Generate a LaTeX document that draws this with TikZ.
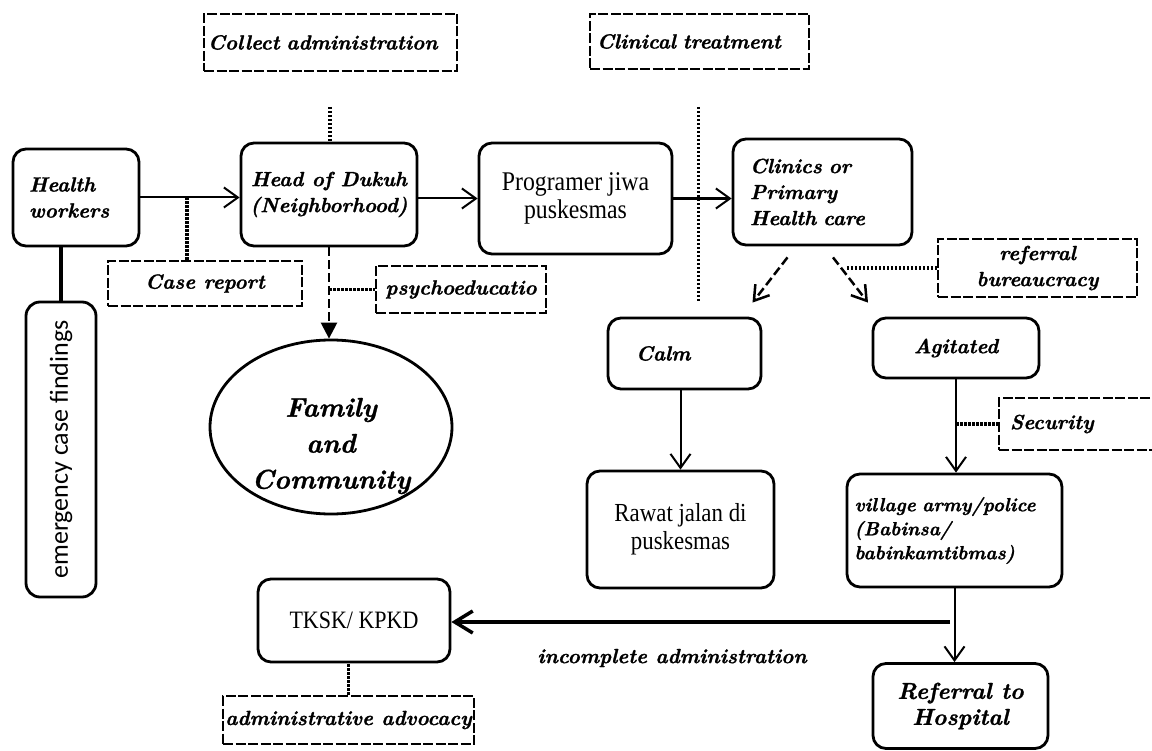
\documentclass[tikz,border=0pt]{standalone}
\usepackage{fontspec}
\newfontfamily\tnr{Liberation Serif}[FakeStretch=0.88]
\newfontfamily\carl{Carlito}
\newfontfamily\bkb{lmroman10-bolditalic.otf}[FakeBold=1.2]
\usetikzlibrary{arrows.meta,calc,shapes.geometric}
\begin{document}
\begin{tikzpicture}[x=1pt,y=-1pt,
 box/.style={draw, line width=2.8pt, rounded corners=13pt, inner sep=0pt},
 dbox/.style={draw, line width=2.4pt, dash pattern=on 10pt off 2.5pt, inner sep=0pt},
 bi/.style={font=\bkb\fontsize{20.5}{26}\selectfont},
 rmf/.style={font=\tnr\fontsize{27}{28}\selectfont},
 conn/.style={line width=2pt},
 dotl/.style={line width=3.8pt, dash pattern=on 2.5pt off 1.5pt},
 barb/.style={-{Straight Barb[length=14pt,width=20pt,line width=2pt]}},
 dbarb/.style={line width=2.5pt, dash pattern=on 9pt off 4pt, -{Straight Barb[length=14pt,width=18pt,line width=2.5pt,sep=0pt]}},
]
\useasboundingbox (0,0) rectangle (1152,751);
\fill[white] (0,0) rectangle (1152,751);
\clip (0,0) rectangle (1152,751);

% main boxes
\node[box, bi, minimum width=126, minimum height=97, text width=94, align=left] (hw) at (76,197.5) {Health\\workers};
\node[box, bi, minimum width=176, minimum height=103, align=center] (hd) at (329,194.5) {Head of Dukuh\\(Neighborhood)};
\node[box, rmf, minimum width=193, minimum height=111, align=center] (pj) at (575.5,198.5) {Programer jiwa\\puskesmas};
\node[box, bi, minimum width=179, minimum height=106, text width=145, align=left] (cl) at (822.5,192) {Clinics or\\Primary\\Health care};
\node[box, bi, minimum width=153, minimum height=71, text width=97, align=left] (ca) at (684.5,353.5) {Calm};
\node[box, bi, minimum width=166, minimum height=60, align=center] (ag) at (956,348) {Agitated};
\node[box, font=\tnr\fontsize{26}{28}\selectfont, minimum width=187, minimum height=117, align=center] (rw) at (680.5,529.5) {Rawat jalan di\\puskesmas};
\node[box, font=\bkb\fontsize{19}{24}\selectfont, minimum width=215, minimum height=113, text width=200, align=left] (vp) at (954.5,530.5) {village army/police\\(Babinsa/\\babinkamtibmas)};
\node[box, font=\bkb\fontsize{23}{26}\selectfont, minimum width=175, minimum height=85, align=center] (rh) at (960.5,706) {Referral to\\Hospital};
\node[box, font=\tnr\fontsize{25}{28}\selectfont, minimum width=192, minimum height=83, align=center] (tk) at (354,620.5) {TKSK/ KPKD};
\node[box, rounded corners=14pt, minimum width=70, minimum height=295] (em) at (61,449.5) {};
\node[font=\carl\fontsize{26}{30}\selectfont, rotate=90] (emt) at (em.center) {emergency case findings};
\node[draw, ellipse, line width=2.8pt, minimum width=242, minimum height=174,
  label={[font=\bkb\fontsize{27}{36}\selectfont, align=center, yshift=-19pt]center:Family\\and\\Community}] (fc) at (331,427) {};

% dashed boxes
\node[dbox, bi, minimum width=253, minimum height=57, text width=245, align=left] (coll) at (330.5,42.5) {Collect administration};
\node[dbox, bi, minimum width=219, minimum height=55, text width=205, align=left] (ct) at (699.5,41.5) {Clinical treatment};
\node[dbox, bi, minimum width=194, minimum height=45, align=center] (crp) at (205,283.5) {Case report};
\node[dbox, bi, minimum width=170, minimum height=47, align=center] (ps) at (461,289.5) {psychoeducatio};
\node[dbox, bi, minimum width=199, minimum height=58, align=center] (rb) at (1037.5,268) {referral\\bureaucracy};
\node[dbox, bi, minimum width=162, minimum height=52, text width=140, align=left] (se) at (1080,424) {Security};
\node[dbox, bi, minimum width=251, minimum height=48, align=center] (aa) at (348.5,720) {administrative advocacy};

% connectors
\draw[conn, barb] (hw.east) -- (hw.east -| hd.west);
\coordinate (j1) at ($(hw.east)!0.47!(hw.east -| hd.west)$);
\draw[dotl] (j1) -- (j1 |- crp.north);
\draw[line width=3.5pt] (em.north) -- (em.north |- hw.south);

\coordinate (c1) at (330,107);
\draw[dotl] (c1) -- (c1 |- hd.north);
\coordinate (v1) at (698,107);
\coordinate (v2) at (698,303);
\draw[dotl, line width=3pt] (v1) -- (v2);

\draw[conn, barb] (pj.west -| hd.east) -- (pj.west);
\draw[line width=2.6pt, barb] (pj.east) -- (pj.east -| cl.west);

\draw[line width=2.5pt, dash pattern=on 9pt off 4pt, -{Triangle[length=16pt,width=16pt]}] (hd.south) -- (hd.south |- fc.north);
\draw[dotl] (hd.south |- ps.west) -- (ps.west);

\draw[dbarb] ($(cl.south)+(-35,11)$) -- ($(ca.north)+(68,-14)$);
\draw[dbarb] ($(cl.south)+(10.5,11)$) -- ($(ag.north)+(-88,-14)$);
\draw[dotl] ($(rb.west)+(-90,0)$) -- (rb.west);

\draw[conn, barb] (rw.north |- ca.south) -- (rw.north);
\draw[conn, barb] (ag.south) -- (ag.south |- vp.north);
\draw[dotl] (ag.south |- se.west) -- (se.west);
\draw[conn, barb] (vp.south) -- (vp.south |- rh.north);

\coordinate (ia) at (950,622);
\draw[line width=3.5pt, -{Straight Barb[length=18pt,width=22pt,line width=3.5pt]}] (ia) -- (ia -| tk.east);
\node[bi] (ial) at (672,658) {incomplete administration};
\draw[dotl] (aa.north) -- (aa.north |- tk.south);
\end{tikzpicture}
\end{document}
